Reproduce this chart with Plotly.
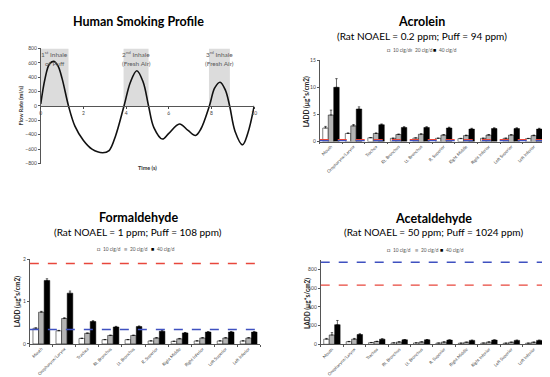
import plotly.graph_objects as go

W, H = 550, 377
def px(x): return x / W
def py(y): return 1 - y / H

# ---------------- data ----------------
time_s = [0.0, 0.2, 0.4, 0.6, 0.8, 1.0, 1.3, 1.6, 2.0, 2.4, 2.9, 3.2, 3.5, 3.9, 4.2, 4.5, 4.8, 5.05,
          5.3, 5.7, 6.0, 6.5, 6.9, 7.25, 7.5, 7.9, 8.15, 8.4, 8.65, 8.85, 9.1, 9.45, 9.7, 10.0]
flow = [30, 380, 580, 620, 560, 380, 0, -280, -480, -600, -650, -620, -420, 0, 330, 490, 330, 0,
        -300, -460, -380, -250, -340, -410, -320, 0, 250, 330, 220, 0, -350, -540, -380, 0]
inhale_start = [0.0, 3.88, 7.88]
inhale_end = [1.3, 5.05, 8.86]
inhale_line1 = ["1<sup>st</sup> Inhale", "2<sup>nd</sup> Inhale", "3<sup>rd</sup> Inhale"]
inhale_line2 = ["of Puff", "(Fresh Air)", "(Fresh Air)"]

regions = ["Mouth", "Oropharynx/Larynx", "Trachea", "Rt. Bronchus", "Lt. Bronchus", "R. Superior",
           "Right Middle", "Right Inferior", "Left Superior", "Left Inferior"]
series = ["10 cig/d", "20 cig/d", "40 cig/d"]

acro_10 = [2.5, 1.5, 0.7, 0.6, 0.65, 0.6, 0.55, 0.6, 0.6, 0.55]
acro_20 = [4.9, 2.9, 1.5, 1.3, 1.35, 1.2, 1.1, 1.2, 1.2, 1.1]
acro_40 = [10.0, 6.0, 3.1, 2.6, 2.6, 2.5, 2.3, 2.4, 2.4, 2.3]
acro_err10 = [0.3, 0.1, 0.05, 0.05, 0.05, 0.05, 0.05, 0.05, 0.05, 0.05]
acro_err20 = [0.9, 0.25, 0.1, 0.1, 0.1, 0.1, 0.1, 0.1, 0.1, 0.1]
acro_err40 = [1.6, 0.4, 0.15, 0.15, 0.15, 0.15, 0.15, 0.15, 0.15, 0.15]
acro_lines = [0.35, 0.15]

form_10 = [0.37, 0.31, 0.13, 0.10, 0.10, 0.07, 0.06, 0.07, 0.07, 0.07]
form_20 = [0.75, 0.60, 0.25, 0.20, 0.20, 0.14, 0.12, 0.14, 0.14, 0.14]
form_40 = [1.50, 1.20, 0.53, 0.40, 0.41, 0.30, 0.26, 0.28, 0.28, 0.28]
form_err10 = [0.01, 0.01, 0.005, 0.005, 0.005, 0.005, 0.005, 0.005, 0.005, 0.005]
form_err20 = [0.02, 0.02, 0.01, 0.01, 0.01, 0.01, 0.01, 0.01, 0.01, 0.01]
form_err40 = [0.04, 0.05, 0.02, 0.015, 0.015, 0.015, 0.01, 0.01, 0.01, 0.01]
form_lines = [1.9, 0.34]

acet_10 = [55, 28, 18, 15, 15, 13, 12, 13, 12, 12]
acet_20 = [100, 55, 30, 25, 25, 24, 22, 24, 22, 22]
acet_40 = [210, 105, 55, 48, 48, 45, 42, 45, 42, 42]
acet_err10 = [8, 3, 2, 1, 1, 1, 1, 1, 1, 1]
acet_err20 = [25, 8, 3, 2, 2, 2, 2, 2, 2, 2]
acet_err40 = [45, 8, 4, 3, 3, 3, 3, 3, 3, 3]
acet_lines = [632, 878]

FONT = "Lato"
fig = go.Figure()

# ---------------- panel 1: smoking profile ----------------
for s, e in zip(inhale_start, inhale_end):
    fig.add_shape(type="rect", xref="x", yref="y", x0=s, x1=e, y0=0, y1=800,
                  fillcolor="#dcdcdc", line_width=0, layer="below")
for s, e, l1, l2 in zip(inhale_start, inhale_end, inhale_line1, inhale_line2):
    fig.add_annotation(x=(s + e) / 2, y=800, xref="x", yref="y", text=l1, showarrow=False,
                       yanchor="top", font=dict(size=6.5, color="#5a5a5a", family=FONT))
    fig.add_annotation(x=(s + e) / 2, y=660, xref="x", yref="y", text=l2, showarrow=False,
                       yanchor="top", font=dict(size=6.5, color="#5a5a5a", family=FONT))
fig.add_trace(go.Scatter(x=time_s, y=flow, mode="lines", line=dict(color="#111", width=1.6,
                         shape="spline", smoothing=1.0), showlegend=False, xaxis="x", yaxis="y"))

# ---------------- bar panels ----------------
colors = ["#ffffff", "#b4b4b4", "#000000"]
panels = [
    (2, [acro_10, acro_20, acro_40], [acro_err10, acro_err20, acro_err40]),
    (3, [form_10, form_20, form_40], [form_err10, form_err20, form_err40]),
    (4, [acet_10, acet_20, acet_40], [acet_err10, acet_err20, acet_err40]),
]
for idx, vals, errs in panels:
    for name, v, er, c in zip(series, vals, errs, colors):
        fig.add_trace(go.Bar(x=regions, y=v, name=name, marker=dict(color=c, line=dict(color="#000", width=0.5)),
                             error_y=dict(type="data", array=er, symmetric=False, arrayminus=[0] * len(er),
                                          color="#000", thickness=0.6, width=1.2),
                             showlegend=False, xaxis=f"x{idx}", yaxis=f"y{idx}"))

RED, BLUE = "#e8473c", "#3f51c0"
def hline(idx, val, color):
    fig.add_shape(type="line", xref=f"x{idx} domain", yref=f"y{idx}", x0=0, x1=1, y0=val, y1=val,
                  line=dict(color=color, width=1.3, dash="dash"), layer="above")

hline(2, acro_lines[0], RED); hline(2, acro_lines[1], BLUE)
hline(3, form_lines[0], RED); hline(3, form_lines[1], BLUE)
hline(4, acet_lines[0], RED); hline(4, acet_lines[1], BLUE)

tickfont = dict(size=5, color="#444", family=FONT)
common_x = dict(showline=True, linecolor="#555", linewidth=0.8, ticks="outside", ticklen=2,
                tickcolor="#555", tickangle=-45, tickfont=dict(size=4.3, color="#444", family=FONT),
                showgrid=False, tickson="boundaries")
common_y = dict(showline=True, linecolor="#555", linewidth=0.8, ticks="outside", ticklen=2,
                tickcolor="#555", tickfont=tickfont, showgrid=False, zeroline=False)

fig.update_layout(
    width=W, height=H, margin=dict(l=0, r=0, t=0, b=0), paper_bgcolor="white", plot_bgcolor="white",
    barmode="group", bargap=0.27, bargroupgap=0.0, font=dict(family=FONT, size=6),
    xaxis=dict(domain=[px(32), px(247)], range=[0, 10], anchor="free", position=py(97),
               showline=True, linecolor="#555", linewidth=0.8, ticks="outside", ticklen=2,
               tickvals=[0, 2, 4, 6, 8, 10], tickfont=tickfont, showgrid=False, zeroline=False),
    yaxis=dict(domain=[py(155), py(38)], range=[-800, 800], tickvals=list(range(-800, 801, 200)),
               **common_y),
    xaxis2=dict(domain=[px(313), px(540)], anchor="y2", **common_x),
    yaxis2=dict(domain=[py(132.7), py(50)], range=[0, 15], tickvals=[0, 5, 10, 15], anchor="x2", **common_y),
    xaxis3=dict(domain=[px(21), px(253)], anchor="y3", **common_x),
    yaxis3=dict(domain=[py(338.3), py(252.3)], range=[0, 2], tickvals=[0, 1, 2], anchor="x3", **common_y),
    xaxis4=dict(domain=[px(314), px(540)], anchor="y4", **common_x),
    yaxis4=dict(domain=[py(338.7), py(253.2)], range=[0, 900], tickvals=[0, 200, 400, 600, 800],
                anchor="x4", **common_y),
)

def ann(x, y, text, size, bold=False, color="#000", angle=0, xanchor="center"):
    fig.add_annotation(x=px(x), y=py(y), xref="paper", yref="paper", showarrow=False,
                       text=f"<b>{text}</b>" if bold else text, textangle=angle,
                       font=dict(size=size, color=color, family=FONT), xanchor=xanchor, yanchor="middle")

# titles
ann(130, 11, "Human Smoking Profile", 12.5, bold=True)
ann(416, 11, "Acrolein", 12.5, bold=True)
ann(416, 25, "(Rat NOAEL = 0.2 ppm; Puff = 94 ppm)", 10)
ann(130, 210, "Formaldehyde", 12.5, bold=True)
ann(130, 225, "(Rat NOAEL = 1 ppm; Puff = 108 ppm)", 10)
ann(428, 211, "Acetaldehyde", 12.5, bold=True)
ann(428, 225, "(Rat NOAEL = 50 ppm; Puff = 1024 ppm)", 10)

# axis titles
ann(140, 160, "Time (s)", 5.5, bold=True, color="#333")
ann(13, 96, "Flow Rate (ml/s)", 5.5, bold=True, color="#333", angle=-90)
ann(300, 92, "LADD (µg*s/cm2)", 6.5, bold=True, color="#222", angle=-90)
ann(8, 295, "LADD (µg*s/cm2)", 6.5, bold=True, color="#222", angle=-90)
ann(300, 297, "LADD (µg*s/cm2)", 6.5, bold=True, color="#222", angle=-90)

# legends (symbol + label per series)
symbols = [("□", "#000"), ("■", "#b4b4b4"), ("■", "#000")]
legend_pos = [([380, 402, 427], 40), ([88, 115, 143], 242), ([380, 408, 434], 243)]
for xs, y in legend_pos:
    for x0, (sym, col), name in zip(xs, symbols, series):
        ann(x0 + 2, y, sym, 5.5, color=col)
        ann(x0 + 4.5, y, name, 4.8, color="#555", xanchor="left")

fig.write_html("out.html")
